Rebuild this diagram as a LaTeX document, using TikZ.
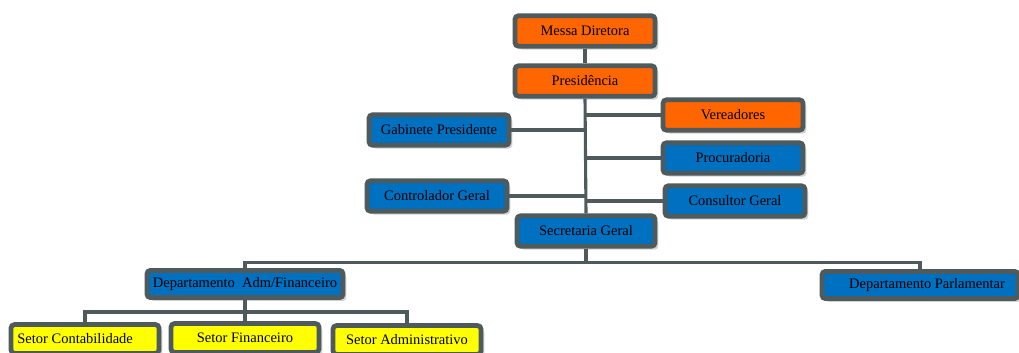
\documentclass[tikz,border=0pt]{standalone}
\usepackage{fontspec}
\setmainfont{Liberation Serif}
\usepackage{tikz}
\usetikzlibrary{shapes,shadows}
\definecolor{laranja}{HTML}{FF6600}
\definecolor{azul}{HTML}{0070C0}
\definecolor{amarelo}{HTML}{FFFF00}
\definecolor{borda}{HTML}{4F5A5C}

\begin{document}
\begin{tikzpicture}[x=0.025cm,y=-0.025cm,
	caixa/.style={rectangle,draw=borda,line width=3.4pt,rounded corners=2.5pt,
		minimum width=3.5cm,minimum height=0.76cm,inner sep=1pt,
		font=\fontsize{10.3}{12}\selectfont,
		drop shadow={fill=black!35,shadow xshift=2.4pt,shadow yshift=-2.4pt}},
	laranja/.style={caixa,fill=laranja},
	azul/.style={caixa,fill=azul},
	depto/.style={azul,minimum width=4.9cm,minimum height=0.68cm},
	setor/.style={caixa,fill=amarelo,minimum width=3.7cm,minimum height=0.72cm},
	linha/.style={draw=borda,line width=2.2pt}]
\useasboundingbox (0,0) rectangle (1019,353);
% topo
\node [laranja] (mesa) at (585,31) {Messa Diretora};
\node [laranja] (pres) at (585,81) {Presidência};
\node [laranja] (ver) at (733,115) {Vereadores};
\node [azul] (gab) at (439,130) {Gabinete Presidente};
\node [azul] (proc) at (733,158) {Procuradoria};
\node [azul] (contr) at (437,196) {Controlador Geral};
\node [azul] (cons) at (735,201) {Consultor Geral};
\node [azul,minimum width=3.45cm] (sec) at (586,231) {Secretaria Geral};
% departamentos
\node [depto] (adm) at (245,284) {Departamento~ Adm/Financeiro};
\node [depto] (parl) at (920,285) {\hspace*{10pt}Departamento Parlamentar};
% setores
\node [setor] (cont) at (85,339) {Setor Contabilidade\hspace*{14pt}};
\node [setor] (fin) at (245,338) {Setor Financeiro};
\node [setor] (sadm) at (407,340) {Setor Administrativo};

\coordinate (bus) at ([yshift=-0.35cm]sec.south);
\coordinate (sbus) at ([yshift=-0.3cm]adm.south);

\draw [linha] (mesa) -- (pres);
\draw [linha] (pres.south) -- (sec.north);
\draw [linha] (ver.west) -- (ver.west -| pres.south);
\draw [linha] (gab.east) -- (gab.east -| pres.south);
\draw [linha] (proc.west) -- (proc.west -| pres.south);
\draw [linha] (contr.east) -- (contr.east -| pres.south);
\draw [linha] (cons.west) -- (cons.west -| pres.south);
\draw [linha] (sec.south) -- (bus);
\draw [linha] (adm.north) |- (bus) -| (parl.north);
\draw [linha] (adm.south) -- (fin.north);
\draw [linha] (cont.north) |- (sbus) -| (sadm.north);
\end{tikzpicture}
\end{document}
